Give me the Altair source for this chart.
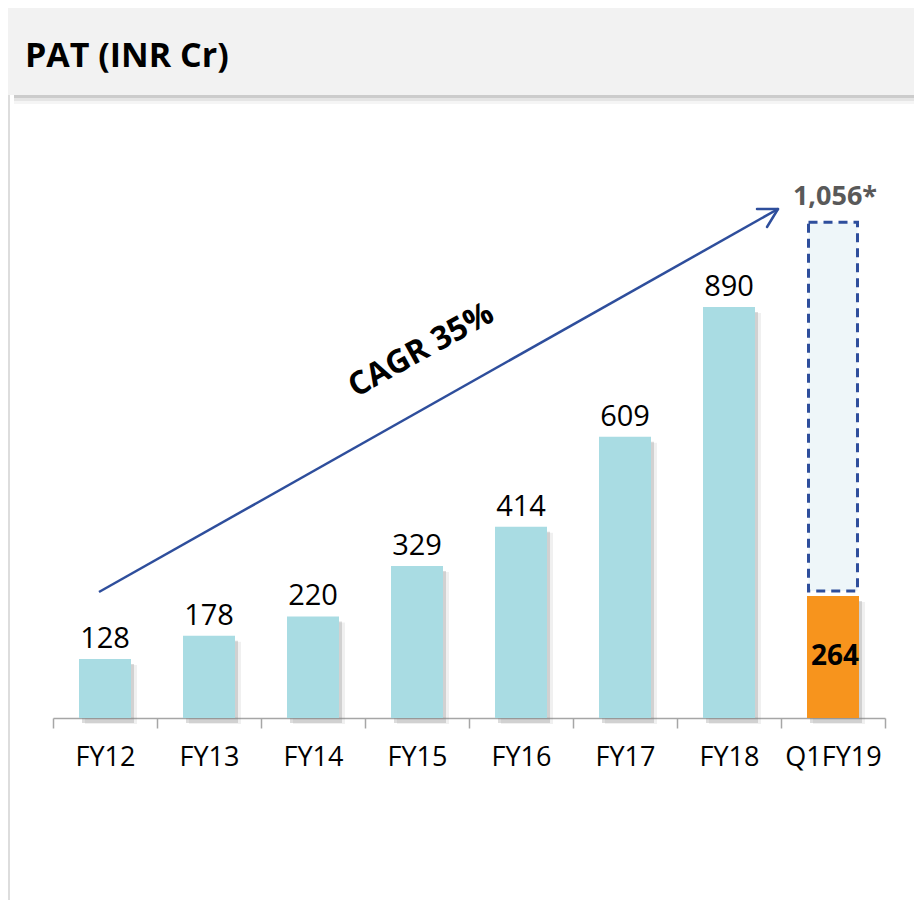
import altair as alt
import pandas as pd

# ---------------- data ----------------
categories = ["FY12", "FY13", "FY14", "FY15", "FY16", "FY17", "FY18", "Q1FY19"]
pat_values = [128, 178, 220, 329, 414, 609, 890, 264]
bar_kinds = ["Annual", "Annual", "Annual", "Annual", "Annual", "Annual", "Annual", "Quarter"]

annualised_category = ["Q1FY19"]
annualised_value = [1056]
annualised_base = [264]
annualised_label = ["1,056*"]

title_text = "PAT (INR Cr)"
cagr_text = "CAGR 35%"

df = pd.DataFrame({"cat": categories, "pat": pat_values, "kind": bar_kinds})
ann = pd.DataFrame({"cat": annualised_category, "val": annualised_value,
                    "base": annualised_base, "label": annualised_label})
dummy = pd.DataFrame({"d": [0]})

FONT = "Open Sans"
TEAL = "#A9DCE3"
ORANGE = "#F7941D"
NAVY = "#2E4E9C"
AXIS_GREY = "#A6A6A6"

W, H = 832, 710
y_scale = alt.Scale(domain=[0, 1537.5], nice=False, zero=True)
x_scale = alt.Scale(paddingInner=0, paddingOuter=0)
x_axis = alt.Axis(title=None, labelAngle=0, labelFont=FONT, labelFontSize=27,
                  labelColor="#000000", domainColor=AXIS_GREY, domainWidth=1.5,
                  tickColor=AXIS_GREY, tickWidth=1.5, tickSize=10,
                  tickBand="extent", labelPadding=16, grid=False)


def xe():
    return alt.X("cat:N", sort=categories, scale=x_scale, axis=x_axis)


def ye(field):
    return alt.Y(field, scale=y_scale, axis=None)


# ---------------- decoration ----------------
header = alt.Chart(dummy).mark_rect(color="#F2F2F2").encode(
    x=alt.value(-45), x2=alt.value(861), y=alt.value(0), y2=alt.value(87))
shadow1 = alt.Chart(dummy).mark_rect(color="#7F7F7F", opacity=0.4).encode(
    x=alt.value(-39), x2=alt.value(861), y=alt.value(87), y2=alt.value(90))
shadow2 = alt.Chart(dummy).mark_rect(color="#7F7F7F", opacity=0.2).encode(
    x=alt.value(-39), x2=alt.value(861), y=alt.value(90), y2=alt.value(93))
shadow3 = alt.Chart(dummy).mark_rect(color="#7F7F7F", opacity=0.08).encode(
    x=alt.value(-39), x2=alt.value(861), y=alt.value(93), y2=alt.value(96))
left_line = alt.Chart(dummy).mark_rule(color="#DDDDDD", strokeWidth=2).encode(
    x=alt.value(-44), y=alt.value(87), y2=alt.value(892))
title = alt.Chart(dummy).mark_text(text=title_text, font=FONT, fontSize=34, fontWeight="bold",
                                   align="left", baseline="alphabetic", color="#000000").encode(
    x=alt.value(-28), y=alt.value(59))

# ---------------- bars ----------------
bar_shadow_far = alt.Chart(df).mark_bar(size=52, color="#808080", opacity=0.12,
                                        xOffset=6, yOffset=6).encode(
    x=xe(), y=ye("pat:Q"))
bar_shadow_near = alt.Chart(df).mark_bar(size=52, color="#808080", opacity=0.28,
                                         xOffset=3, yOffset=5).encode(
    x=xe(), y=ye("pat:Q"))
bars = alt.Chart(df).mark_bar(size=52).encode(
    x=xe(),
    y=ye("pat:Q"),
    color=alt.Color("kind:N", scale=alt.Scale(domain=["Annual", "Quarter"], range=[TEAL, ORANGE]),
                    legend=None))

dashed_box = alt.Chart(ann).mark_bar(size=49, fill="#EEF6F9", stroke=NAVY, strokeWidth=3,
                                     strokeDash=[9, 6], yOffset=-8, y2Offset=-5).encode(
    x=xe(), y=ye("val:Q"), y2="base:Q")

# ---------------- labels ----------------
labels = alt.Chart(df).transform_filter(alt.datum.kind == "Annual").mark_text(
    font=FONT, fontSize=29, baseline="alphabetic", dy=-11, color="#000000").encode(
    x=xe(), y=ye("pat:Q"), text="pat:Q")

q1_label = alt.Chart(df).transform_filter(alt.datum.kind == "Quarter").transform_calculate(
    mid="datum.pat / 2").mark_text(
    font=FONT, fontSize=28, fontWeight="bold", baseline="middle", color="#000000", dx=2).encode(
    x=xe(), y=ye("mid:Q"), text="pat:Q")

ann_label = alt.Chart(ann).mark_text(
    font=FONT, fontSize=27, fontWeight="bold", baseline="alphabetic", dy=-25, dx=2,
    color="#595959").encode(
    x=xe(), y=ye("val:Q"), text="label:N")

# ---------------- CAGR arrow ----------------
arrow_main = alt.Chart(dummy).mark_rule(color=NAVY, strokeWidth=2.5).encode(
    x=alt.value(46), y=alt.value(584), x2=alt.value(725), y2=alt.value(201))
arrow_arm1 = alt.Chart(dummy).mark_rule(color=NAVY, strokeWidth=2.5, strokeCap="round").encode(
    x=alt.value(725), y=alt.value(201), x2=alt.value(704), y2=alt.value(201))
arrow_arm2 = alt.Chart(dummy).mark_rule(color=NAVY, strokeWidth=2.5, strokeCap="round").encode(
    x=alt.value(725), y=alt.value(201), x2=alt.value(714), y2=alt.value(219))
cagr = alt.Chart(dummy).mark_text(text=cagr_text, font=FONT, fontSize=32, fontWeight="bold",
                                  angle=331, align="center", baseline="middle",
                                  color="#000000").encode(
    x=alt.value(368), y=alt.value(342))

chart = alt.layer(
    header, shadow1, shadow2, shadow3, left_line, title,
    bar_shadow_far, bar_shadow_near, bars, dashed_box,
    labels, q1_label, ann_label,
    arrow_main, arrow_arm1, arrow_arm2, cagr,
).properties(
    width=W, height=H,
    padding={"left": 45, "top": 0, "right": 29, "bottom": 182},
    autosize=alt.AutoSizeParams(type="none"),
).configure_view(stroke=None)

chart.save("out.html", embed_options={"renderer": "svg", "actions": False})
